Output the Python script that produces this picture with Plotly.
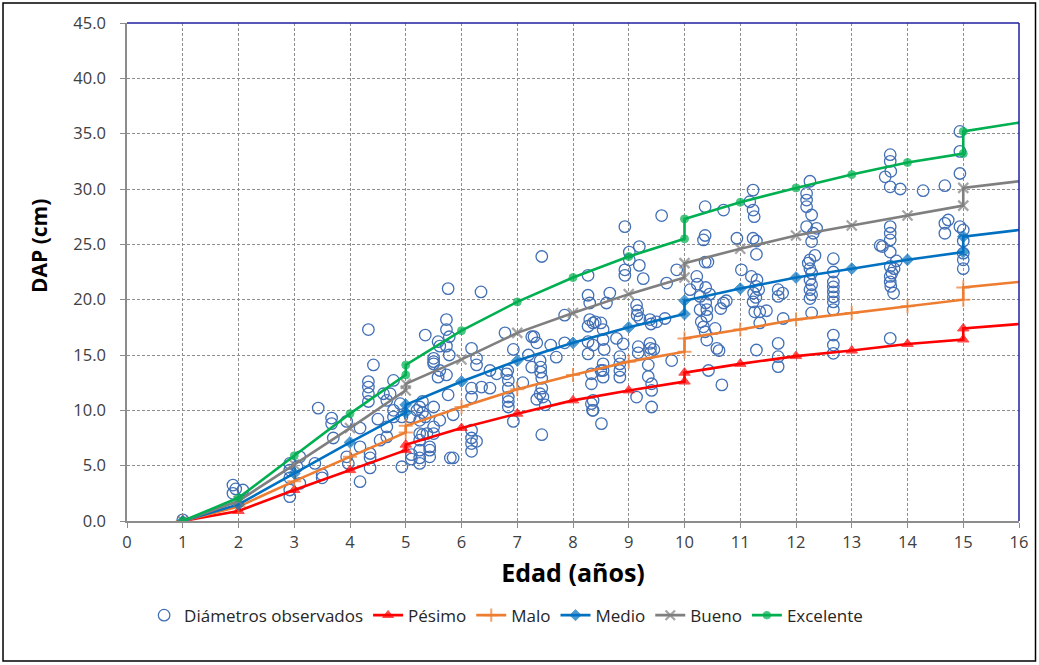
import plotly.graph_objects as go

# ---------------- data ----------------
ages = [1, 2, 3, 4, 5, 5, 6, 7, 8, 9, 10, 10, 11, 12, 13, 14, 15, 15, 16]
pesimo = [0, 0.9, 2.8, 4.6, 6.4, 6.9, 8.4, 9.7, 10.9, 11.8, 12.6, 13.4, 14.2, 14.9, 15.4, 16.0, 16.4, 17.4, 17.8]
malo = [0, 1.3, 3.6, 5.8, 8.0, 8.6, 10.3, 11.9, 13.2, 14.4, 15.3, 16.5, 17.3, 18.2, 18.8, 19.4, 20.0, 21.1, 21.6]
medio = [0, 1.5, 4.3, 7.1, 9.8, 10.5, 12.6, 14.5, 16.1, 17.5, 18.7, 19.9, 21.0, 22.0, 22.8, 23.6, 24.3, 25.7, 26.3]
bueno = [0, 1.8, 5.1, 8.4, 11.8, 12.4, 14.6, 17.0, 18.8, 20.5, 22.0, 23.3, 24.6, 25.8, 26.7, 27.6, 28.5, 30.1, 30.7]
excelente = [0, 2.1, 5.9, 9.7, 13.2, 14.1, 17.2, 19.8, 22.0, 23.9, 25.5, 27.3, 28.8, 30.1, 31.3, 32.4, 33.2, 35.2, 36.0]

obs_age = [
    1.0, 1.9, 1.9, 2.08, 1.95,
    2.92, 2.92, 2.92, 2.92, 2.92, 3.1, 3.1, 3.37, 3.5, 3.5, 3.43, 3.05,
    3.67, 3.67, 3.7, 3.94, 3.94, 3.97, 4.18, 4.18, 4.18, 4.33, 4.42, 4.33, 4.33, 4.33, 4.33, 4.36, 4.36, 4.36,
    4.54, 4.66, 4.72, 4.66, 4.78, 4.9, 4.93, 4.93, 4.78, 4.78, 4.66, 4.6, 4.5,
    5.08, 5.1, 5.25, 5.25, 5.35, 5.25, 5.3, 5.43, 5.43, 5.5, 5.5, 5.5, 5.5, 5.58, 5.58, 5.5, 5.73, 5.73, 5.73, 5.73, 5.8,
    5.76, 6.35, 5.78, 5.78, 5.61, 5.5, 5.61, 5.76, 6.18, 6.27, 6.27, 6.18, 6.18, 6.36, 6.51, 6.51, 6.63, 5.85, 5.61,
    5.25, 5.25, 5.25, 5.25, 5.38, 5.43, 5.1, 6.18, 6.18, 6.18, 6.18, 6.27, 5.85, 5.3, 5.3, 5.35, 5.2,
    6.81, 6.83, 6.84, 6.84, 6.84, 6.84, 6.84, 6.93, 6.93, 6.78, 7.26, 7.3, 7.35, 7.26, 7.41, 7.42, 7.42, 7.44, 7.44,
    7.41, 7.46, 7.5, 7.35, 7.44, 7.44, 7.6, 7.85, 7.85, 7.1, 7.2, 7.7,
    8.3, 8.3, 8.27, 8.27, 8.27, 8.33, 8.33, 8.33, 8.35, 8.27, 8.27, 8.4, 8.5,
    9.59, 8.93, 9.01, 9.01, 9.19, 9.19, 8.93, 8.93, 9.26, 9.68, 9.86, 8.66, 8.6, 9.14, 9.16, 9.15, 9.2, 9.38, 9.4,
    9.5, 9.65, 8.36, 8.5, 8.54, 8.54, 8.56, 8.36, 8.78, 8.9, 8.84, 8.84, 8.84, 8.84, 8.54, 8.54, 8.54, 9.17, 9.17,
    9.38, 9.39, 9.39, 9.45, 9.35, 9.35, 9.41, 9.41, 9.41, 9.14, 9.77, 8.36, 8.36, 8.51,
    10.1, 10.22, 10.23, 10.37, 10.42, 10.34, 10.37, 10.37, 10.7, 10.38, 10.28, 10.38, 10.4, 10.4, 10.28, 10.34,
    10.37, 10.4, 10.55, 10.58, 10.62, 10.43, 10.67, 10.7, 10.75, 10.65, 10.94, 11.17, 11.23, 11.23, 11.25, 11.23,
    11.29, 11.29, 11.02, 11.2, 11.3, 11.28, 11.33, 11.24, 11.28, 11.23, 11.26, 11.35, 11.35, 11.47, 11.68, 11.68,
    11.76, 11.77, 11.68, 11.68, 11.68, 11.29, 10.3, 10.45,
    12.25, 12.19, 12.19, 12.19, 12.28, 12.19, 12.37, 12.31, 12.28, 12.34, 12.25, 12.22, 12.25, 12.28, 12.25, 12.28,
    12.25, 12.28, 12.25, 12.28,
    12.67, 12.67, 12.67, 12.67, 12.67, 12.67, 12.67, 12.67, 12.67, 12.67, 12.67,
    13.51, 13.55, 13.69, 13.69, 13.69, 13.69, 13.69, 13.69, 13.69, 13.7, 13.75, 13.76, 13.69, 13.69, 13.69, 13.7,
    13.6, 13.69, 13.87, 14.28, 14.67, 14.94, 14.94, 14.94, 14.67, 14.73, 14.67, 14.94, 15.0, 15.0, 15.0, 15.0, 15.0,
    13.8, 13.72,
]
obs_dap = [
    0.1, 3.25, 2.5, 2.8, 2.9,
    5.2, 4.6, 3.9, 2.8, 2.2, 3.4, 5.8, 5.2, 4.2, 3.9, 10.2, 4.9,
    9.3, 8.8, 7.5, 9.0, 5.8, 5.2, 3.55, 6.7, 8.4, 17.3, 14.1, 12.6, 12.1, 11.5, 10.8, 6.1, 5.7, 4.8,
    7.3, 8.5, 11.5, 10.9, 12.7, 10.6, 4.9, 9.4, 10.0, 9.4, 7.6, 11.5, 9.2,
    9.4, 6.0, 10.3, 5.2, 16.8, 7.3, 7.8, 6.7, 5.8, 8.5, 10.3, 14.7, 14.2, 16.2, 13.0, 7.9, 18.2, 17.3, 15.8, 13.2, 5.7,
    21.0, 20.7, 16.65, 15.0, 15.8, 14.4, 13.6, 11.4, 15.6, 14.7, 14.1, 12.0, 11.2, 12.1, 13.6, 12.0, 13.3, 9.6, 9.1,
    9.1, 7.9, 6.4, 5.7, 7.9, 6.4, 5.6, 8.2, 7.5, 7.0, 6.3, 7.2, 5.7, 10.8, 9.8, 9.4, 10.0,
    13.3, 13.6, 12.7, 12.0, 11.2, 10.8, 10.3, 9.0, 15.5, 17.0, 16.65, 16.65, 16.1, 13.9, 14.5, 13.9, 13.45, 12.9, 12.0,
    11.5, 11.2, 10.5, 11.0, 7.8, 23.9, 15.9, 16.1, 18.6, 12.5, 15.0, 14.8,
    19.7, 18.2, 17.6, 16.2, 15.1, 13.3, 12.4, 10.6, 10.0, 22.2, 20.4, 18.0, 13.6,
    27.6, 26.6, 24.3, 23.6, 24.8, 23.1, 22.7, 22.2, 21.9, 21.5, 22.7, 20.6, 19.7, 19.5, 19.0, 18.6, 18.3, 18.2, 17.8,
    18.0, 18.3, 17.9, 17.9, 17.3, 16.4, 15.5, 15.9, 16.5, 16.0, 14.85, 14.2, 13.6, 13.0, 14.2, 13.6, 13.0, 15.75, 15.2,
    16.05, 15.6, 15.2, 15.5, 14.1, 13.05, 12.4, 11.8, 10.3, 11.2, 14.5, 10.9, 10.0, 8.8,
    20.9, 22.1, 21.4, 23.4, 23.4, 25.4, 25.8, 28.4, 28.1, 21.1, 20.3, 19.7, 19.1, 18.5, 19.1, 17.55,
    17.1, 16.35, 17.4, 15.6, 15.4, 13.6, 12.3, 19.7, 19.9, 19.2, 25.55, 28.85, 29.9, 28.1, 27.5, 25.55,
    25.3, 24.1, 22.7, 22.1, 21.8, 21.2, 20.9, 20.6, 20.2, 19.8, 18.9, 17.9, 18.9, 19.0, 20.9, 20.3,
    20.6, 18.3, 16.05, 14.85, 13.95, 15.45, 18.0, 20.5,
    30.7, 29.6, 29.0, 28.4, 27.65, 26.6, 26.45, 26.0, 25.25, 24.0, 23.6, 23.3, 22.8, 22.4, 21.8, 21.35,
    20.9, 20.45, 20.1, 18.8,
    23.7, 22.5, 21.6, 21.15, 20.7, 20.25, 19.8, 19.1, 16.8, 15.9, 15.15,
    24.9, 24.8, 26.6, 26.0, 25.4, 24.3, 23.0, 22.1, 21.6, 21.2, 20.6, 22.8, 16.5, 33.1, 32.5, 31.6,
    31.1, 30.2, 30.0, 29.85, 30.3, 35.2, 33.4, 31.4, 26.9, 27.2, 26.0, 26.6, 26.3, 25.3, 24.2, 23.6, 22.8,
    23.5, 22.4,
]

x_ticks = list(range(0, 17))
y_ticks = [0, 5, 10, 15, 20, 25, 30, 35, 40, 45]

# ---------------- figure ----------------
fig = go.Figure()

fig.add_trace(go.Scatter(
    x=obs_age, y=obs_dap, mode="markers", name="Diámetros observados",
    marker=dict(symbol="circle-open", size=11.5, color="#4270B6", line=dict(width=1.3)),
))

last_hidden = [1] * (len(ages) - 1) + [0]

series = [
    ("Pésimo", pesimo, "#FF0000", "triangle-up", 10, 1),
    ("Malo", malo, "#ED7D31", "cross-thin", 10, 2),
    ("Medio", medio, "#0070C0", "diamond", 9, 1),
    ("Bueno", bueno, "#7F7F7F", "x-thin", 10, 2.2),
    ("Excelente", excelente, "#00B050", "circle", 8, 1),
]
for name, vals, col, sym, size, lw in series:
    fig.add_trace(go.Scatter(
        x=ages, y=vals, mode="lines+markers", name=name,
        line=dict(color=col, width=2.6),
        marker=dict(symbol=sym, size=[size * v for v in last_hidden], color=col,
                    line=dict(color=col, width=lw)),
    ))

FONT = "Open Sans, Lato, sans-serif"
axis_font = dict(family=FONT, size=16.5, color="#404040")
fig.update_layout(
    width=1039, height=665,
    margin=dict(l=127, r=20, t=23, b=144),
    paper_bgcolor="white", plot_bgcolor="white",
    font=dict(family=FONT, size=16, color="#262626"),
    showlegend=True,
    legend=dict(orientation="h", x=0.425, xanchor="center", y=-0.19, yanchor="middle",
                font=dict(size=17, color="#262626"), itemwidth=30, tracegroupgap=0),
    xaxis=dict(
        range=[0, 16], tickmode="array", tickvals=x_ticks, ticktext=[str(t) for t in x_ticks],
        showgrid=True, gridcolor="#8E8E8E", griddash="3px,2px", gridwidth=1,
        showline=True, linecolor="#8C8C8C", linewidth=1.5,
        ticks="outside", ticklen=5, tickcolor="#8C8C8C",
        zeroline=False, tickfont=axis_font,
        title=dict(text="<b>Edad (años)</b>", font=dict(family=FONT, size=25, color="black"), standoff=13),
    ),
    yaxis=dict(
        range=[0, 45], tickmode="array", tickvals=y_ticks, ticktext=[f"{t:.1f}" for t in y_ticks],
        showgrid=True, gridcolor="#8E8E8E", griddash="3px,2px", gridwidth=1,
        showline=True, linecolor="#8C8C8C", linewidth=1.5,
        ticks="outside", ticklen=5, tickcolor="#8C8C8C", ticklabelstandoff=11,
        zeroline=False, tickfont=axis_font,
        title=dict(text="", font=dict(family=FONT, size=21, color="black")),
    ),
)

# y-axis title placed like the original (a bit above the plot centre)
fig.add_annotation(
    text="<b>DAP (cm)</b>", xref="paper", yref="paper",
    x=(39 - 127) / 892, y=(521 - 246) / 498, xanchor="center", yanchor="middle",
    textangle=-90, showarrow=False, font=dict(family=FONT, size=21, color="black"),
)

# blue top/right frame of the plot area
fig.add_shape(type="line", xref="paper", yref="paper", x0=0, x1=1, y0=1, y1=1,
              line=dict(color="#1F1FA0", width=1.5))
fig.add_shape(type="line", xref="paper", yref="paper", x0=1, x1=1, y0=0, y1=1,
              line=dict(color="#1F1FA0", width=1.5))
# outer black frame of the whole chart
fig.add_shape(type="rect", xref="paper", yref="paper",
              x0=-0.139, x1=1.0185, y0=-0.281, y1=1.040,
              line=dict(color="black", width=1.5), fillcolor="rgba(0,0,0,0)", layer="below")

fig.write_html("out.html")
